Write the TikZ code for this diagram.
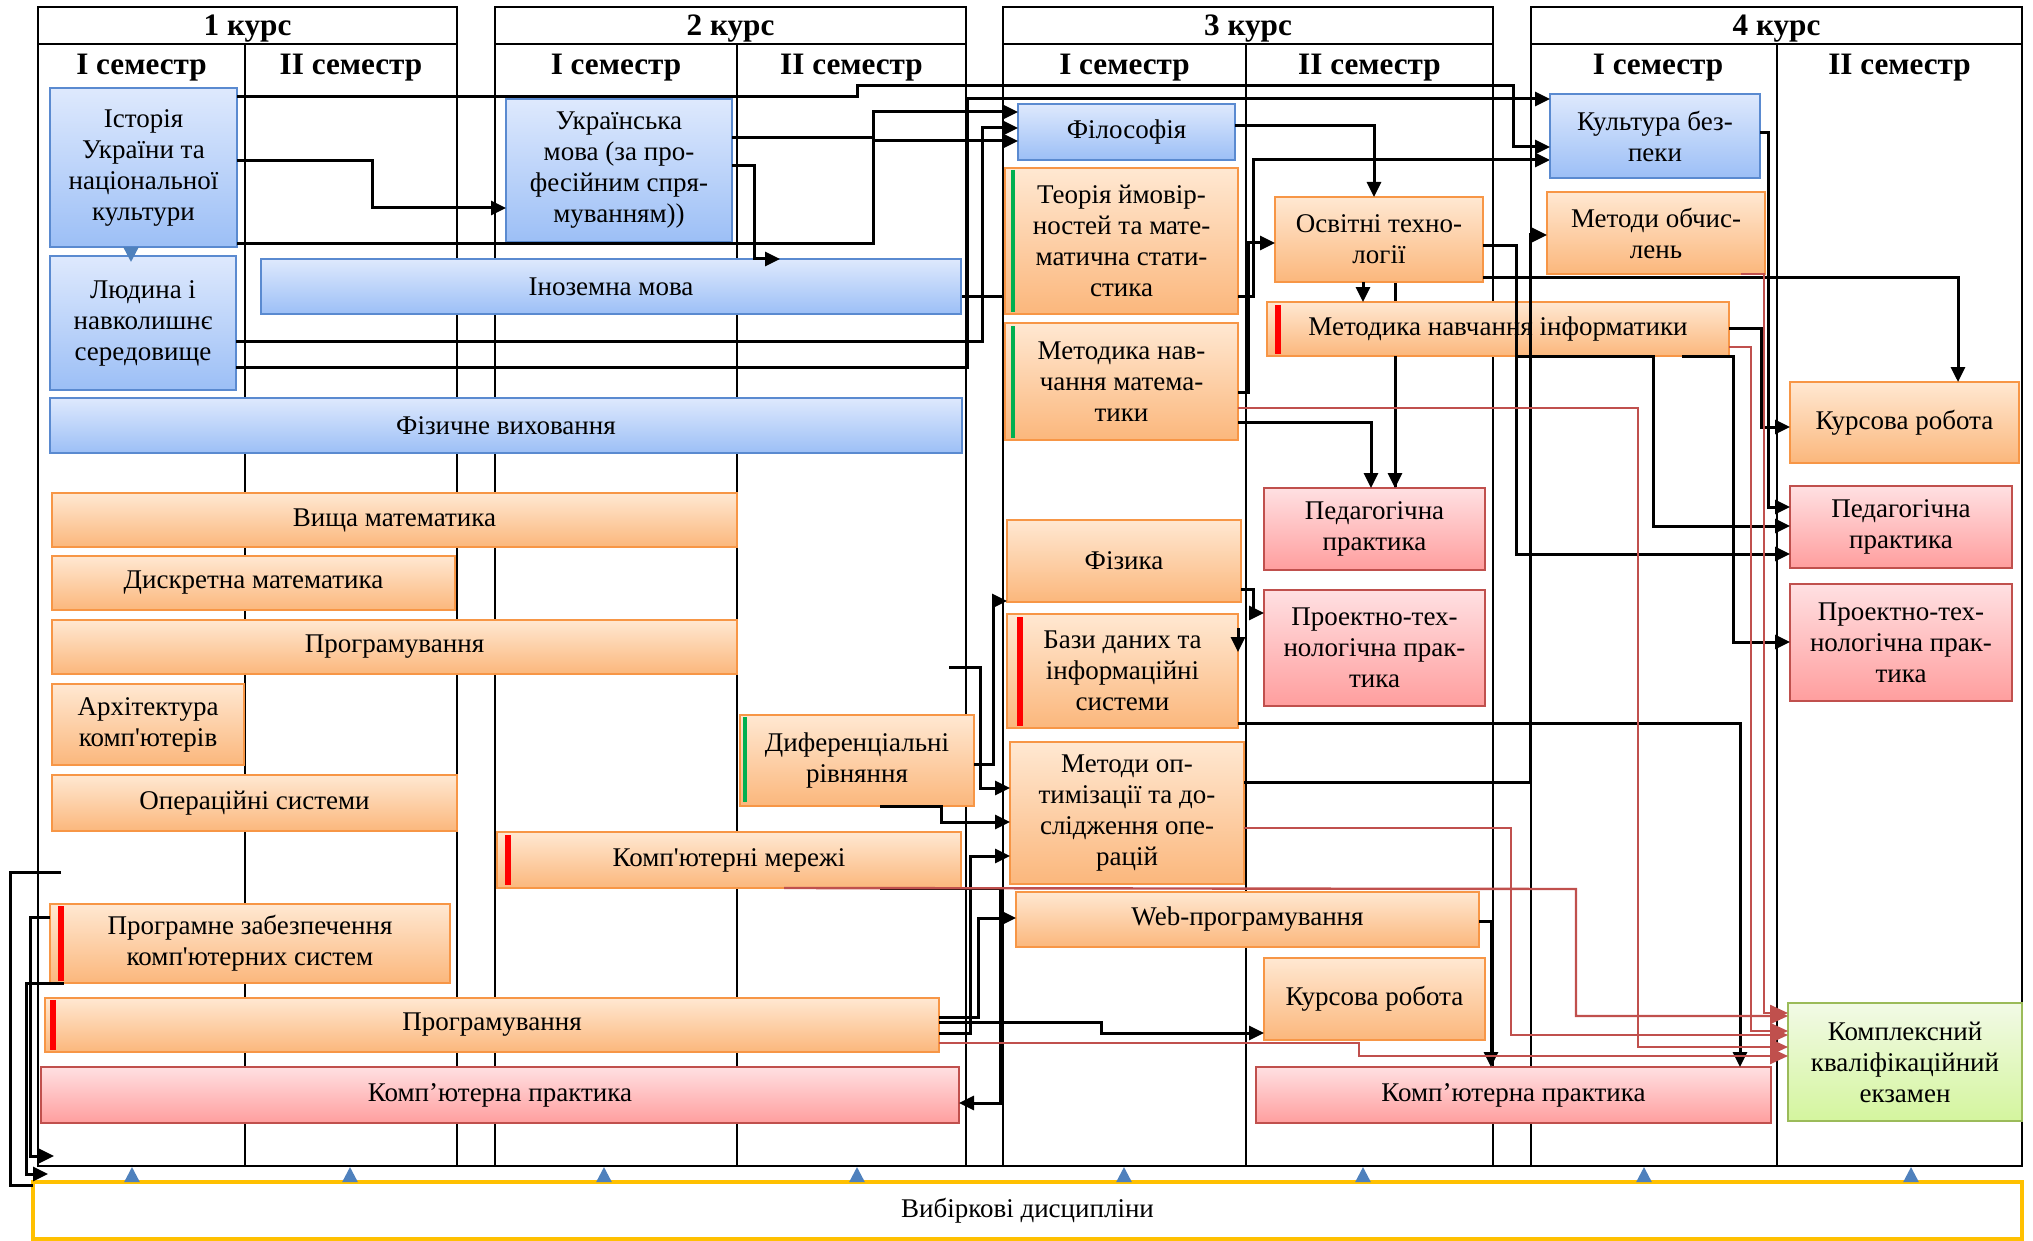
\documentclass[tikz,border=0pt]{standalone}
\usepackage{fontspec}
\setmainfont{Liberation Serif}[Ligatures=TeXOff]
\usetikzlibrary{arrows.meta,calc}
\definecolor{bluetop}{HTML}{DEE9FD}
\definecolor{bluebot}{HTML}{9CBFF6}
\definecolor{blueline}{HTML}{5A8AD0}
\definecolor{ortop}{HTML}{FFE8D2}
\definecolor{orbot}{HTML}{FBB77C}
\definecolor{orline}{HTML}{F79646}
\definecolor{pktop}{HTML}{FFE0E2}
\definecolor{pkbot}{HTML}{FF9E9E}
\definecolor{pkline}{HTML}{C0504D}
\definecolor{grtop}{HTML}{F2FAE6}
\definecolor{grbot}{HTML}{D4F59E}
\definecolor{grline}{HTML}{9BBB59}
\definecolor{redln}{HTML}{C0504D}
\definecolor{arrblue}{HTML}{4F81BD}
\definecolor{yel}{HTML}{FFC000}
\definecolor{barred}{HTML}{FF0000}
\definecolor{bargreen}{HTML}{00B050}
\newcommand\bx[7]{\node[#1, anchor=north west, minimum width={(#5-#3)*0.5pt}, minimum height={(#6-#4)*0.5pt}] (#2) at (#3,#4) {#7};}
\begin{document}
\begin{tikzpicture}[x=0.5pt,y=-0.5pt,
  box/.style={inner sep=1pt, outer sep=0pt, align=center, line width=1pt, font=\rmfamily\fontsize{13.5}{15.5}\selectfont},
  bluebox/.style={box, draw=blueline, top color=bluetop, bottom color=bluebot},
  orbox/.style={box, draw=orline, top color=ortop, bottom color=orbot},
  pkbox/.style={box, draw=pkline, top color=pktop, bottom color=pkbot},
  grbox/.style={box, draw=grline, top color=grtop, bottom color=grbot},
  frameline/.style={line width=0.9pt},
  divline/.style={line width=0.7pt},
  title/.style={font=\rmfamily\fontsize{15.6}{18}\selectfont\bfseries, inner sep=0pt, anchor=base},
  conn/.style={line width=1.5pt, -{Triangle[length=7.5pt,width=7pt]}},
  plainconn/.style={line width=1.5pt},
  redconn/.style={redln, line width=1.2pt, -{Triangle[length=9pt,width=8pt]}},
  blueup/.style={arrblue, line width=1.2pt, -{Triangle[length=7.5pt,width=7.5pt]}},
  redbar/.style={barred, line width=2.6pt},
  greenbar/.style={bargreen, line width=2.4pt}]
\useasboundingbox (0,0) rectangle (2033,1241);

% ---- frame ----
\draw[frameline] (38,7) rectangle (457,1166);
\draw[frameline] (38,44) -- (457,44);
\draw[divline] (245,44) -- (245,1166);
\draw[frameline] (495,7) rectangle (966,1166);
\draw[frameline] (495,44) -- (966,44);
\draw[divline] (737,44) -- (737,1166);
\draw[frameline] (1003,7) rectangle (1493,1166);
\draw[frameline] (1003,44) -- (1493,44);
\draw[divline] (1246,44) -- (1246,1166);
\draw[frameline] (1531,7) rectangle (2022,1166);
\draw[frameline] (1531,44) -- (2022,44);
\draw[divline] (1777,44) -- (1777,1166);
\draw[line width=1.3pt] (38,1166) -- (2022,1166);

\node[title] (y1) at (247.5,36) {1 курс};
\node[title] (y2) at (730.5,36) {2 курс};
\node[title] (y3) at (1248,36) {3 курс};
\node[title] (y4) at (1776.5,36) {4 курс};
\node[title] (s11) at (141.5,75) {I семестр};
\node[title] (s12) at (351,75) {II семестр};
\node[title] (s21) at (616,75) {I семестр};
\node[title] (s22) at (851.5,75) {II семестр};
\node[title] (s31) at (1124.5,75) {I семестр};
\node[title] (s32) at (1369.5,75) {II семестр};
\node[title] (s41) at (1658,75) {I семестр};
\node[title] (s42) at (1899.5,75) {II семестр};

% ---- connectors hidden behind boxes ----
\coordinate (c296) at (1253,296);
\draw[conn] (961,296) -- (c296) |- (1550,160);
\draw[plainconn] (1395,282) -- (1395,488);

% ---- boxes ----
\bx{bluebox}{ist}{50}{88}{237}{247}{Історія\\України та\\національної\\культури}
\bx{bluebox}{lud}{50}{256}{236}{390}{Людина і\\навколишнє\\середовище}
\bx{bluebox}{ukr}{506}{99}{732}{242}{Українська\\мова (за про-\\фесійним спря-\\муванням))}
\bx{bluebox}{ino}{261}{259}{961}{314}{Іноземна мова}
\bx{bluebox}{fiz}{50}{398}{962}{453}{Фізичне виховання}
\bx{bluebox}{fil}{1018}{104}{1235}{160}{Філософія}
\bx{bluebox}{kb}{1550}{94}{1760}{178}{Культура без-\\пеки}

\bx{orbox}{vm}{52}{493}{737}{547}{Вища математика}
\bx{orbox}{dm}{52}{556}{455}{610}{Дискретна математика}
\bx{orbox}{pra}{52}{620}{737}{674}{Програмування}
\bx{orbox}{ark}{52}{684}{244}{765}{Архітектура\\комп'ютерів}
\bx{orbox}{os}{52}{775}{457}{831}{Операційні системи}
\bx{orbox}{dr}{740}{715}{974}{806}{Диференціальні\\рівняння}
\bx{orbox}{km}{497}{832}{961}{888}{Комп'ютерні мережі}
\bx{orbox}{pz}{50}{904}{450}{983}{Програмне забезпечення\\комп'ютерних систем}
\bx{orbox}{prb}{45}{998}{939}{1052}{Програмування}
\bx{pkbox}{kpa}{41}{1067}{959}{1123}{Комп’ютерна практика}

\bx{orbox}{tim}{1005}{168}{1238}{314}{Теорія ймовір-\\ностей та мате-\\матична стати-\\стика}
\bx{orbox}{mnm}{1005}{323}{1238}{440}{Методика нав-\\чання матема-\\тики}
\bx{orbox}{ot}{1275}{197}{1483}{282}{Освітні техно-\\логії}
\bx{orbox}{mo}{1547}{192}{1765}{274}{Методи обчис-\\лень}
\bx{orbox}{mni}{1267}{302}{1729}{356}{Методика навчання інформатики}
\bx{orbox}{kr4}{1790}{382}{2019}{463}{Курсова робота}
\bx{orbox}{fizk}{1007}{520}{1241}{602}{Фізика}
\bx{orbox}{bd}{1007}{614}{1238}{728}{Бази даних та\\інформаційні\\системи}
\bx{orbox}{mop}{1010}{742}{1244}{884}{Методи оп-\\тимізації та до-\\слідження опе-\\рацій}
\bx{orbox}{web}{1016}{892}{1479}{947}{Web-програмування}
\bx{orbox}{kr3}{1264}{958}{1485}{1040}{Курсова робота}

\bx{pkbox}{pp3}{1264}{488}{1485}{570}{Педагогічна\\практика}
\bx{pkbox}{pt3}{1264}{590}{1485}{706}{Проектно-тех-\\нологічна прак-\\тика}
\bx{pkbox}{pp4}{1790}{486}{2012}{568}{Педагогічна\\практика}
\bx{pkbox}{pt4}{1790}{584}{2012}{701}{Проектно-тех-\\нологічна прак-\\тика}
\bx{pkbox}{kpb}{1256}{1067}{1771}{1123}{Комп’ютерна практика}
\bx{grbox}{kke}{1788}{1003}{2022}{1121}{Комплексний\\кваліфікаційний\\екзамен}

\node[box, draw=yel, line width=2pt, fill=white, anchor=north west, minimum width={1989*0.5pt}, minimum height={57*0.5pt}] (vyb) at (33,1182) {Вибіркові дисципліни};

% ---- colour bars ----
\draw[greenbar] (1013,170) -- (1013,312);
\draw[greenbar] (1013,326) -- (1013,438);
\draw[greenbar] (745,717) -- (745,802);
\draw[redbar] (508,835) -- (508,885);
\draw[redbar] (1278,305) -- (1278,354);
\draw[redbar] (1020,617) -- (1020,726);
\draw[redbar] (61,906) -- (61,981);
\draw[redbar] (53,1000) -- (53,1050);

% ---- black connectors ----
\draw[conn] (ist.east |- 0,161) -- (372,161) |- (ukr.west |- 0,208);
\draw[conn] (ist.east |- 0,97) -- (857,97) -- (857,86) -- (1513,86) |- (kb.west |- 0,147);
\draw[conn] (lud.east |- 0,367) -- (967,367) |- (kb.west |- 0,99);
\draw[conn] (ukr.east |- 0,138) -- (873,138) |- (fil.west |- 0,112);
\draw[conn] (lud.east |- 0,341) -- (982,341) |- (fil.west |- 0,128);
\draw[conn] (ist.east |- 0,244) -- (873,244) |- (fil.west |- 0,141);
\draw[conn] (ukr.east |- 0,166) -- (754,166) |- (ino.north -| 780,0);
\draw[plainconn] (tim.east |- 0,296) -- (c296);
\draw[conn] (mnm.east |- 0,392) -- (1248,392) |- (ot.west |- 0,243);
\draw[conn] (fil.east |- 0,126) -| (ot.north -| 1374,0);
\draw[conn] (ot.south -| 1363,0) -- (mni.north -| 1363,0);
\draw[conn] (mni.south -| 1395,0) -- (pp3.north -| 1395,0);
\draw[conn] (mnm.east |- 0,422) -| (pp3.north -| 1371,0);
\draw[conn] (ot.east |- 0,246) -- (1516,246) |- (pp4.west |- 0,554);
\draw[conn] (ot.east |- 0,277) -| (kr4.north -| 1958,0);
\draw[conn] (mni.south -| 1517,0) -- (mni.south -| 1653,0) |- (pp4.west |- 0,526);
\draw[conn] (mni.south -| 1682,0) -- (mni.south -| 1733,0) |- (pt4.west |- 0,642);
\draw[conn] (mni.east |- 0,328) -- (1761,328) |- (kr4.west |- 0,427);
\draw[conn] (kb.east |- 0,133) -- (1768,133) |- (pp4.west |- 0,507);
\draw[conn] (mop.east |- 0,782) -- (1530,782) |- (mo.west |- 0,235);
\draw[conn] (bd.east |- 0,723) -| (kpb.north -| 1740,0);
\draw[conn] (fizk.east |- 0,589) -- (1253,589) |- (pt3.west |- 0,613);
\draw[conn] ($(bd.north east)+(0,14)$) -- ($(bd.north east)+(0,38)$);
\draw[conn] (web.east |- 0,921) -| (kpb.north -| 1491,0);
\draw[conn] (dr.east |- 0,764) -- (993,764) |- (fizk.west |- 0,601);
\coordinate (free1) at (949,667);
\draw[conn] (free1) -- (980,667) |- (mop.west |- 0,788);
\draw[conn] (dr.south -| 880,0) -- (dr.south -| 941,0) |- (mop.west |- 0,822);
\draw[conn] (prb.east |- 0,1033) -- (970,1033) |- (mop.west |- 0,856);
\draw[conn] (prb.east |- 0,1017) -- (978,1017) |- (web.west |- 0,918);
\draw[conn] (prb.east |- 0,1022) -- (1101,1022) |- (kr3.west |- 0,1033);
\draw[conn] (km.south -| 880,0) -- (km.south -| 1000,0) |- (kpa.east |- 0,1103);
\coordinate (free2) at (61,872);
\draw[plainconn] (free2) -- (10,872) -- (10,1185) -- (vyb.west |- 0,1185);
\draw[conn] (pz.west |- 0,917) -- (30,917) |- (54,1156);
\draw[conn] (pz.south -| 64,0) -- (pz.south -| 26,0) |- (48,1174);

% ---- red connectors ----
\draw[redconn] (mo.south -| 1741,0) -- (mo.south -| 1764,0) |- (kke.west |- 0,1013);
\draw[redconn] (mni.east |- 0,347) -- (1751,347) |- (kke.west |- 0,1031);
\draw[redconn] (mnm.east |- 0,408) -- (1638,408) |- (kke.west |- 0,1047);
\draw[redconn] (mop.east |- 0,828) -- (1511,828) |- (kke.west |- 0,1035);
\draw[redconn] (km.south -| 784,0) -- (1576,889) |- (kke.west |- 0,1016);
\draw[redconn] (prb.east |- 0,1043) -- (1359,1043) |- (kke.west |- 0,1056);

% ---- blue arrows ----
\draw[blueup] (ist.south -| 131,0) -- ($(lud.north -| 131,0)+(0,6)$);
\foreach \xx in {132,350,604,857,1124,1363,1644,1911}
  \draw[blueup] (vyb.north -| \xx,0) -- (\xx,1167);
\end{tikzpicture}
\end{document}
